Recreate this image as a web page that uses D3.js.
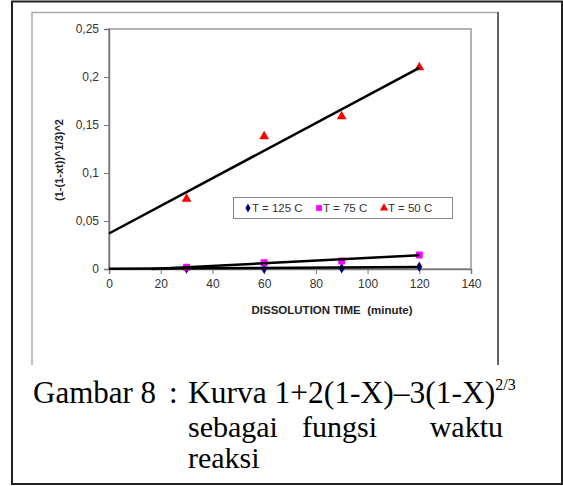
<!DOCTYPE html>
<html>
<head>
<meta charset="utf-8">
<script src="https://cdn.jsdelivr.net/npm/d3@7"></script>
<style>
body { margin: 0; background: #fff; }
</style>
</head>
<body>
<div id="chart"></div>
<script>
// data
var times = [30, 60, 90, 120];
var t125 = [0.0005, 0.0002, 0.0007, 0.0024];
var t75 = [0.0018, 0.0066, 0.0083, 0.0146];
var t50 = [0.073, 0.138, 0.159, 0.210];
// trendline end points [x, y]
var trend125 = [[0, 0.0002], [120, 0.0021]];
var trend75 = [[16.5, 0], [120, 0.0142]];
var trend50 = [[0, 0.037], [120, 0.2095]];
var xTicks = [0, 20, 40, 60, 80, 100, 120, 140];
var yTicks = [0, 0.05, 0.1, 0.15, 0.2, 0.25];
var yTickLabels = ["0", "0,05", "0,1", "0,15", "0,2", "0,25"];
var legendNames = ["T = 125 C", "T = 75 C", "T = 50 C"];

var W = 563, H = 486;
var svg = d3.select("#chart").append("svg").attr("width", W).attr("height", H);

// outer page border
svg.append("rect").attr("x", 12).attr("y", 1.5).attr("width", 550).attr("height", 482.5)
	.style("fill", "none").style("stroke", "#222").style("stroke-width", 2);

// chart object frame (bottom is cut off)
svg.append("path").attr("d", "M32,365V12.5H498V365").style("fill", "none").style("stroke", "#aaa").style("stroke-width", 1.5);
svg.append("line").attr("x1", 498).attr("x2", 498).attr("y1", 12).attr("y2", 365).style("stroke", "#444").style("stroke-width", 1.5);

var x = d3.scaleLinear().domain([0, 140]).range([109, 471]);
var y = d3.scaleLinear().domain([0, 0.25]).range([269, 29]);

// plot area border
svg.append("rect").attr("x", x(0)).attr("y", y(0.25)).attr("width", x(140) - x(0)).attr("height", y(0) - y(0.25))
	.style("fill", "none").style("stroke", "#999").style("stroke-width", 1.5);

var font = "'Liberation Sans', Arial, sans-serif";

var yAxis = svg.append("g").attr("transform", "translate(" + x(0) + ",0)")
	.call(d3.axisLeft(y).tickValues(yTicks).tickSize(5).tickPadding(5).tickFormat(function(d, i) { return yTickLabels[i]; }));
var xAxis = svg.append("g").attr("transform", "translate(0," + y(0) + ")")
	.call(d3.axisBottom(x).tickValues(xTicks).tickSize(5).tickPadding(5));
[xAxis, yAxis].forEach(function(a) {
	a.select(".domain").style("stroke", "#777").style("stroke-width", 1.5);
	a.selectAll(".tick line").style("stroke", "#777");
	a.selectAll("text").style("font-family", font).style("font-size", "12px").style("fill", "#333");
});

svg.append("text").attr("transform", "translate(63,160) rotate(-90)").attr("text-anchor", "middle")
	.style("font-family", font).style("font-size", "11px").style("font-weight", "bold").style("fill", "#222")
	.text("(1-(1-xt))^1/3)^2");
svg.append("text").attr("x", 332).attr("y", 314).attr("text-anchor", "middle")
	.style("font-family", font).style("font-size", "11.5px").style("font-weight", "bold").style("fill", "#222")
	.style("white-space", "pre")
	.text("DISSOLUTION TIME  (minute)");

var series = [
	{ vals: t125, color: "#000080", sym: d3.symbolDiamond, size: 32 },
	{ vals: t75, color: "#ff00ff", sym: d3.symbolSquare, size: 48 },
	{ vals: t50, color: "#ff0000", sym: d3.symbolTriangle, size: 42 }
];

series.forEach(function(s) {
	svg.append("g").selectAll("path").data(s.vals).enter().append("path")
		.attr("d", d3.symbol().type(s.sym).size(s.size))
		.attr("transform", function(d, i) { return "translate(" + x(times[i]) + "," + y(d) + ")"; })
		.style("fill", s.color);
});

var line = d3.line().x(function(d) { return x(d[0]); }).y(function(d) { return y(d[1]); });
[trend125, trend75, trend50].forEach(function(t) {
	svg.append("path").attr("d", line(t)).style("fill", "none").style("stroke", "#000").style("stroke-width", 2.5);
});

// legend
var lg = svg.append("g");
lg.append("rect").attr("x", 233.5).attr("y", 197.5).attr("width", 219).attr("height", 21)
	.style("fill", "#fff").style("stroke", "#888");
var lx = [248, 319, 384];
series.forEach(function(s, i) {
	lg.append("path").attr("d", d3.symbol().type(s.sym).size(s.size * 0.7))
		.attr("transform", "translate(" + lx[i] + ",208)").style("fill", s.color);
	lg.append("text").attr("x", lx[i] + 4).attr("y", 212)
		.style("font-family", font).style("font-size", "11.5px").style("fill", "#333").text(legendNames[i]);
});

// caption
var serif = "'Liberation Serif', 'Times New Roman', serif";
function cap(tx, ty, str, size, anchor) {
	return svg.append("text").attr("x", tx).attr("y", ty).attr("text-anchor", anchor || "start")
		.style("font-family", serif).style("font-size", size + "px").style("fill", "#000").text(str);
}
cap(33, 403, "Gambar 8", 31);
cap(169, 403, ":", 31);
var k = cap(188, 403, "Kurva 1+2(1-X)\u20133(1-X)", 31.5);
k.append("tspan").attr("dy", -13).style("font-size", "16px").text("2/3");
cap(188, 437, "sebagai", 30);
cap(302, 437, "fungsi", 30);
cap(503, 437, "waktu", 30, "end");
cap(188, 468, "reaksi", 30);
</script>
</body>
</html>
